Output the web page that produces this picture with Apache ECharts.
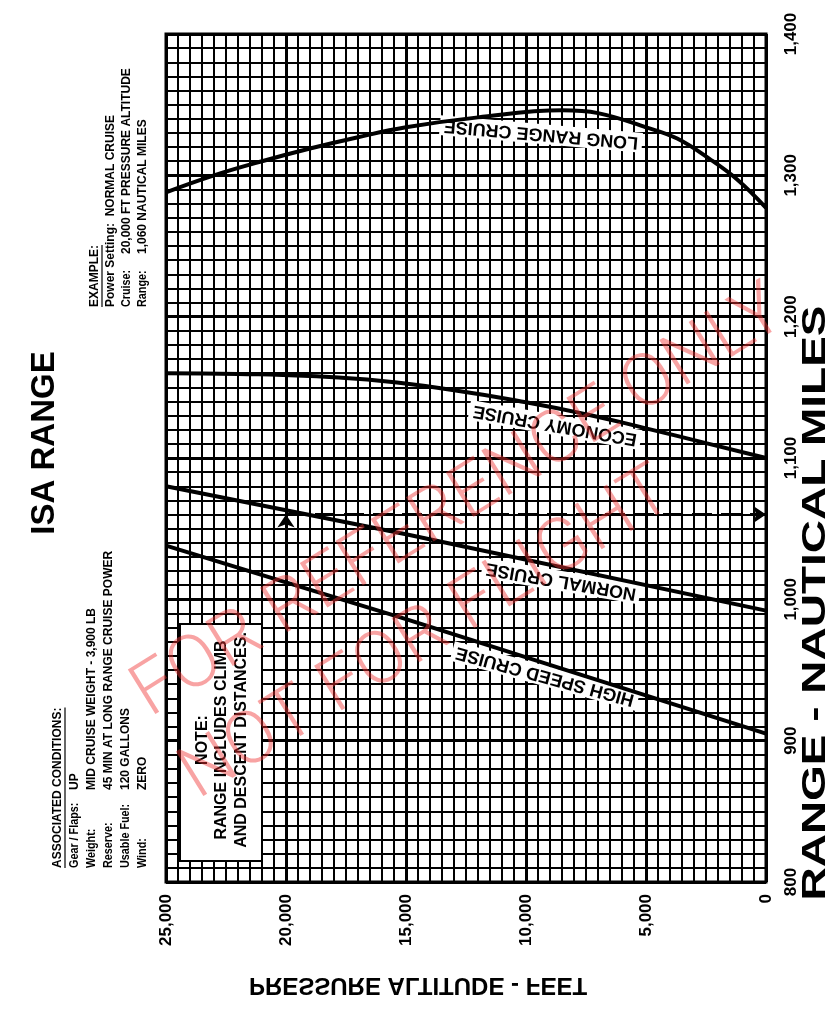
<!DOCTYPE html>
<html><head><meta charset="utf-8">
<script src="https://cdn.jsdelivr.net/npm/echarts@6/dist/echarts.min.js"></script>
<style>html,body{margin:0;padding:0;background:#fff}#c{width:840px;height:1013px}</style>
</head><body><div id="c"></div>
<script>
// ---- data ----
const altitudeTicks = [0, 5000, 10000, 15000, 20000, 25000];
const altitudeLabels = ['0', '5,000', '10,000', '15,000', '20,000', '25,000'];
const rangeTicks = [800, 900, 1000, 1100, 1200, 1300, 1400];
const rangeLabels = ['800', '900', '1,000', '1,100', '1,200', '1,300', '1,400'];

const longRangeAlt = [25000, 23000, 21000, 19000, 17000, 15000, 12000, 8500, 7000, 5000, 3700, 2300, 1200, 0];
const longRangeNm  = [1288, 1300, 1310, 1319, 1327, 1334, 1341, 1346, 1344, 1334, 1326, 1311, 1297, 1277];
const economyAlt = [25000, 22000, 19000, 16000, 13000, 10000, 7500, 5000, 2500, 0];
const economyNm  = [1160, 1159.5, 1158, 1154.5, 1148, 1139.5, 1131, 1121, 1110.5, 1100];
const normalAlt = [25000, 15000, 0];
const normalNm  = [1080, 1046, 992];
const highSpeedAlt = [25000, 15000, 0];
const highSpeedNm  = [1038, 986, 905];
const exampleAlt = 20000;
const exampleNm = 1060;

const zip = (a, b) => a.map((v, i) => [v, b[i]]);
const FONT = 'Liberation Sans';

const chart = echarts.init(document.getElementById('c'));

const curve = (name, a, b, smooth) => ({
  type: 'line', name, data: zip(a, b), smooth, symbol: 'none', z: 3,
  lineStyle: { color: '#000', width: 4 }
});

chart.setOption({
  animation: false,
  backgroundColor: '#fff',
  grid: { left: 166, right: 74, top: 34, bottom: 131, show: true, borderColor: '#000', borderWidth: 3 },
  xAxis: {
    type: 'value', min: 0, max: 25000, interval: 5000, inverse: true,
    axisLine: { show: false }, axisTick: { show: false },
    axisLabel: { rotate: 90, margin: 12, fontSize: 17, fontWeight: 'bold', color: '#000', fontFamily: FONT,
      formatter: v => altitudeLabels[altitudeTicks.indexOf(v)] },
    splitLine: { show: true, lineStyle: { color: '#000', width: 3 } },
    minorTick: { show: false, splitNumber: 10 },
    minorSplitLine: { show: true, lineStyle: { color: '#000', width: 2 } }
  },
  yAxis: {
    type: 'value', min: 800, max: 1400, interval: 100, position: 'right',
    axisLine: { show: false }, axisTick: { show: false },
    axisLabel: { rotate: 90, margin: 17, fontSize: 17, fontWeight: 'bold', color: '#000', fontFamily: FONT,
      formatter: v => rangeLabels[rangeTicks.indexOf(v)] },
    splitLine: { show: true, lineStyle: { color: '#000', width: 3 } },
    minorTick: { show: false, splitNumber: 10 },
    minorSplitLine: { show: true, lineStyle: { color: '#000', width: 2 } }
  },
  series: [
    curve('LONG RANGE CRUISE', longRangeAlt, longRangeNm, 0.4),
    curve('ECONOMY CRUISE', economyAlt, economyNm, 0.5),
    curve('NORMAL CRUISE', normalAlt, normalNm, false),
    curve('HIGH SPEED CRUISE', highSpeedAlt, highSpeedNm, false),
    {
      type: 'lines', coordinateSystem: 'cartesian2d', z: 4,
      symbol: ['none', 'arrow'], symbolSize: 13,
      lineStyle: { color: '#000', width: 3, type: [20, 9], opacity: 1 },
      data: [
        { coords: [[exampleAlt, 800], [exampleAlt, exampleNm]] },
        { coords: [[exampleAlt, exampleNm], [0, exampleNm]] }
      ]
    }
  ]
});

// ---- annotations ----
const meas = document.createElement('canvas').getContext('2d');
const tw = (s, size, w, fam) => { meas.font = (w || 'bold') + ' ' + size + 'px "' + (fam || FONT) + '"'; return meas.measureText(s).width; };
const R90 = Math.PI / 2;
const deg = d => d * Math.PI / 180;

const g = [];
const vtext = (x, y, text, size, align, extra) => {
  g.push(Object.assign({ type: 'text', x, y, rotation: R90, z: 5,
    style: { text, fontFamily: FONT, fontWeight: 'bold', fontSize: size, fill: '#000', align: align || 'left', verticalAlign: 'middle' } }, extra || {}));
};
const underline = (x, y0, len) => g.push({ type: 'line', z: 5, shape: { x1: x, y1: y0, x2: x, y2: y0 - len }, style: { stroke: '#000', lineWidth: 1.2 } });

// title
vtext(45, 443, 'ISA RANGE', 33, 'center');

// associated conditions
const acY = 868, acVal = 790, acSize = 12;
vtext(58, acY, 'ASSOCIATED CONDITIONS:', acSize);
underline(65, acY, tw('ASSOCIATED CONDITIONS:', acSize));
const acLabels = ['Gear / Flaps:', 'Weight:', 'Reserve:', 'Usable Fuel:', 'Wind:'];
const acValues = ['UP', 'MID CRUISE WEIGHT - 3,900 LB', '45 MIN AT LONG RANGE CRUISE POWER', '120 GALLONS', 'ZERO'];
acLabels.forEach((l, i) => {
  const x = 75 + i * 16.8;
  vtext(x, acY, l, acSize, 'left', { scaleX: 0.9 });
  vtext(x, acVal, acValues[i], acSize);
});

// example
const exY = 307, exVal = 254;
vtext(95, exY, 'EXAMPLE:', acSize);
underline(102, exY, tw('EXAMPLE:', acSize));
vtext(111, exY, 'Power Setting:  NORMAL CRUISE', acSize);
vtext(127, exY, 'Cruise:', acSize, 'left', { scaleX: 0.9 });
vtext(127, exVal, '20,000 FT PRESSURE ALTITUDE', acSize);
vtext(143, exY, 'Range:', acSize, 'left', { scaleX: 0.9 });
vtext(143, exVal, '1,060 NAUTICAL MILES', acSize);

// note box
g.push({ type: 'rect', z: 2, shape: { x: 180, y: 624, width: 82, height: 237 }, style: { fill: '#fff', stroke: '#000', lineWidth: 2 } });
vtext(203, 740, 'NOTE:', 16, 'center');
vtext(222, 740, 'RANGE INCLUDES CLIMB', 16, 'center');
vtext(242, 740, 'AND DESCENT DISTANCES.', 16, 'center');

// axis names
const yName = 'RANGE - NAUTICAL MILES';
vtext(816, 603, yName, 34, 'center', { scaleX: 595 / tw(yName, 34) });
g.push({ type: 'text', x: 418, y: 985, scaleY: -1, z: 5,
  style: { text: 'PRESSURE ALTITUDE - FEET', fontFamily: FONT, fontWeight: 'bold', fontSize: 24, fill: '#000', align: 'center', verticalAlign: 'middle' } });

// curve labels (upside down along curves)
const clabel = (x, y, text, rot) => g.push({ type: 'text', x, y, rotation: deg(rot), z: 2,
  style: { text, fontFamily: FONT, fontWeight: 'bold', fontSize: 18, fill: '#000', align: 'center', verticalAlign: 'middle',
    backgroundColor: '#fff', padding: [1, 4] } });
clabel(541, 134, 'LONG RANGE CRUISE', 175);
clabel(555, 425, 'ECONOMY CRUISE', 170);
clabel(561, 581, 'NORMAL CRUISE', 170.3);
clabel(545, 676, 'HIGH SPEED CRUISE', 164.8);

// watermark
const WMF = 'Roboto';
const wm1 = 'FOR REFERENCE ONLY', wm2 = 'NOT FOR FLIGHT';
const wmSize = 64 * 752 / tw(wm1, 64, '300', WMF);
const wm = (x, y, text) => g.push({ type: 'text', x, y, rotation: deg(31.8), z: 20,
  style: { text, fontFamily: WMF, fontWeight: 300, fontSize: wmSize, fill: 'rgba(240,50,50,0.45)', align: 'left', verticalAlign: 'middle' } });
wm(140, 702, wm1);
wm(188, 784, wm2);

chart.setOption({ graphic: { elements: g } });
</script>
</body></html>
